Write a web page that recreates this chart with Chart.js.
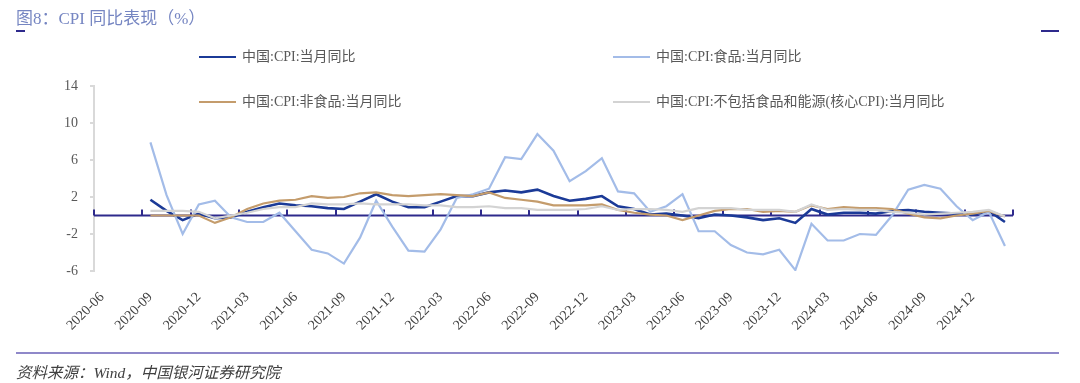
<!DOCTYPE html>
<html>
<head>
<meta charset="utf-8">
<script src="https://cdn.jsdelivr.net/npm/chart.js@4.4.1/dist/chart.umd.min.js"></script>
<style>
  body { margin: 0; background: #fff; }
  #wrap { position: relative; width: 1080px; height: 383px; overflow: hidden; }
  #chart { position: absolute; left: 0; top: 0; }
  .txt { position: absolute; white-space: nowrap; font-family: "Liberation Serif", "Noto Sans CJK SC", serif; }
  #title { left: 16px; top: 4px; font-size: 17px; color: #7686c2; }
  #titleMark { position: absolute; left: 16px; top: 30px; width: 9px; height: 2px; background: #2e2a8c; }
  #cornerMark { position: absolute; left: 1041px; top: 30px; width: 18px; height: 2px; background: #2e2a8c; }
  #bottomRule { position: absolute; left: 16px; top: 352px; width: 1043px; height: 2px; background: #8f88c9; }
  #source { left: 16px; top: 360px; font-size: 15.5px; color: #404040; font-style: italic; }
  .leg { position: absolute; font-size: 14px; color: #595959; line-height: 18px; }
  .leg i { display: inline-block; width: 37px; height: 2px; vertical-align: middle; margin-right: 6px; position: relative; top: -1px; }
</style>
</head>
<body>
<div id="wrap">
  <canvas id="chart" width="1080" height="383"></canvas>
  <div class="txt" id="title">图8：CPI 同比表现（%）</div>
  <div id="titleMark"></div>
  <div id="cornerMark"></div>
  <div id="bottomRule"></div>
  <div class="txt" id="source">资料来源：Wind，中国银河证券研究院</div>
  <div class="txt leg" style="left:199px; top:48px;"><i style="background:#1b3a97"></i>中国:CPI:当月同比</div>
  <div class="txt leg" style="left:613px; top:48px;"><i style="background:#a3bce8"></i>中国:CPI:食品:当月同比</div>
  <div class="txt leg" style="left:199px; top:93px;"><i style="background:#c49c6c"></i>中国:CPI:非食品:当月同比</div>
  <div class="txt leg" style="left:613px; top:93px;"><i style="background:#d3d3d3"></i>中国:CPI:不包括食品和能源(核心CPI):当月同比</div>
</div>
<script>
// months on the category axis (2020-06 .. 2025-02), data starts 2020-09
var months = [];
for (var yr = 2020; yr <= 2025; yr++) {
  for (var m = 1; m <= 12; m++) {
    if (yr === 2020 && m < 6) continue;
    if (yr === 2025 && m > 2) break;
    months.push(yr + '-' + (m < 10 ? '0' + m : m));
  }
}

var cpi = [null, null, null,
  1.7, 0.5, -0.5, 0.2,
  -0.3, -0.2, 0.4, 0.9, 1.3, 1.1, 1.0, 0.8, 0.7, 1.5, 2.3, 1.5,
  0.9, 0.9, 1.5, 2.1, 2.1, 2.5, 2.7, 2.5, 2.8, 2.1, 1.6, 1.8,
  2.1, 1.0, 0.7, 0.1, 0.2, 0.0, -0.3, 0.1, 0.0, -0.2, -0.5, -0.3,
  -0.8, 0.7, 0.1, 0.3, 0.3, 0.2, 0.5, 0.6, 0.4, 0.3, 0.2, 0.1,
  0.5, -0.7];

var food = [null, null, null,
  7.9, 2.2, -2.0, 1.2,
  1.6, -0.2, -0.7, -0.7, 0.3, -1.7, -3.7, -4.1, -5.2, -2.4, 1.6, -1.2,
  -3.8, -3.9, -1.5, 1.9, 2.3, 2.9, 6.3, 6.1, 8.8, 7.0, 3.7, 4.8,
  6.2, 2.6, 2.4, 0.4, 1.0, 2.3, -1.7, -1.7, -3.2, -4.0, -4.2, -3.7,
  -5.9, -0.9, -2.7, -2.7, -2.0, -2.1, 0.0, 2.8, 3.3, 2.9, 1.0, -0.5,
  0.4, -3.3];

var nonFood = [null, null, null,
  0.0, 0.0, 0.0, 0.0,
  -0.8, -0.2, 0.7, 1.3, 1.6, 1.7, 2.1, 1.9, 2.0, 2.4, 2.5, 2.2,
  2.1, 2.2, 2.3, 2.2, 2.1, 2.5, 1.9, 1.7, 1.5, 1.1, 1.1, 1.1,
  1.2, 0.6, 0.3, 0.1, 0.0, -0.5, 0.0, 0.5, 0.7, 0.7, 0.4, 0.5,
  0.4, 1.1, 0.7, 0.9, 0.8, 0.8, 0.7, 0.2, -0.2, -0.3, 0.0, 0.2,
  0.5, -0.1];

var core = [null, null, null,
  0.5, 0.5, 0.5, 0.4,
  -0.3, 0.0, 0.3, 0.7, 0.9, 0.9, 1.3, 1.2, 1.2, 1.3, 1.2, 1.2,
  1.2, 1.1, 1.1, 0.9, 0.9, 1.0, 0.8, 0.8, 0.6, 0.6, 0.6, 0.7,
  1.0, 0.6, 0.7, 0.7, 0.6, 0.4, 0.8, 0.8, 0.8, 0.6, 0.6, 0.6,
  0.4, 1.2, 0.6, 0.7, 0.6, 0.6, 0.4, 0.3, 0.1, 0.2, 0.3, 0.4,
  0.6, -0.1];

var yTicks = [-6, -2, 2, 6, 10, 14];

// zero line with upward tick marks every 3 months
var zeroAxis = {
  id: 'zeroAxis',
  beforeDatasetsDraw: function (chart) {
    var ctx = chart.ctx, area = chart.chartArea;
    var x = chart.scales.x, y = chart.scales.y;
    var y0 = y.getPixelForValue(0);
    ctx.save();
    ctx.strokeStyle = '#2e2a8c';
    ctx.lineWidth = 2;
    ctx.beginPath();
    ctx.moveTo(area.left, y0);
    ctx.lineTo(area.right, y0);
    for (var i = 0; i <= months.length; i += 3) {
      var px = Math.round(x.getPixelForValue(i - 0.5));
      ctx.moveTo(px, y0);
      ctx.lineTo(px, y0 - 6);
    }
    ctx.stroke();
    ctx.restore();
  }
};

var serif = '"Liberation Serif", "Noto Sans CJK SC", serif';

new Chart(document.getElementById('chart'), {
  type: 'line',
  data: {
    labels: months,
    datasets: [
      { label: '中国:CPI:当月同比', data: cpi, borderColor: '#1b3a97', borderWidth: 2.6, order: 3 },
      { label: '中国:CPI:食品:当月同比', data: food, borderColor: '#a3bce8', borderWidth: 2.2, order: 2 },
      { label: '中国:CPI:非食品:当月同比', data: nonFood, borderColor: '#c49c6c', borderWidth: 2.2, order: 1 },
      { label: '中国:CPI:不包括食品和能源(核心CPI):当月同比', data: core, borderColor: '#d3d3d3', borderWidth: 2.2, order: 0 }
    ]
  },
  options: {
    responsive: false,
    animation: false,
    elements: { point: { radius: 0 }, line: { tension: 0 } },
    layout: { padding: { top: 86, right: 67, bottom: 0, left: 0 } },
    plugins: { legend: { display: false }, tooltip: { enabled: false } },
    scales: {
      x: {
        type: 'category',
        offset: true,
        grid: { display: false, drawTicks: false },
        border: { display: false },
        ticks: {
          autoSkip: false,
          minRotation: 45,
          maxRotation: 45,
          padding: 18,
          color: '#404040',
          font: { family: serif, size: 14 },
          callback: function (v, i) { return i % 3 === 0 ? months[i] : null; }
        },
        afterFit: function (scale) { scale.height = 112; }
      },
      y: {
        min: -6,
        max: 14,
        afterBuildTicks: function (scale) { scale.ticks = yTicks.map(function (v) { return { value: v }; }); },
        grid: { drawOnChartArea: false, drawTicks: true, tickLength: 4, color: '#d9d9d9', lineWidth: 2 },
        border: { color: '#d9d9d9', width: 2 },
        ticks: { padding: 12, color: '#595959', font: { family: serif, size: 14 } },
        afterFit: function (scale) { scale.width = 94; }
      }
    }
  },
  plugins: [zeroAxis]
});
</script>
</body>
</html>
